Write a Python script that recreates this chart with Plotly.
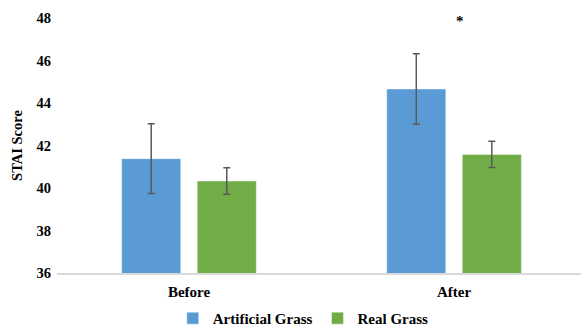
import plotly.graph_objects as go

# STAI scores by session and surface type
sessions = ["Before", "After"]
artificial_mean = [41.38, 44.66]
artificial_err = [1.64, 1.66]
real_mean = [40.33, 41.58]
real_err = [0.62, 0.62]
y_ticks = [36, 38, 40, 42, 44, 46, 48]

FONT = "Liberation Serif"
BLUE = "#5B9BD5"
GREEN = "#70AD47"
ERR = "#595959"

fig = go.Figure()
fig.add_trace(go.Bar(
    name="<b>Artificial Grass</b>", x=sessions, y=artificial_mean,
    base=0, width=0.223, offset=-0.254,
    marker=dict(color=BLUE, line=dict(color="rgba(255,255,255,0.45)", width=1)),
    error_y=dict(type="data", array=artificial_err, color=ERR, thickness=1.5, width=3.5),
))
fig.add_trace(go.Bar(
    name="<b>Real Grass</b>", x=sessions, y=real_mean,
    base=0, width=0.223, offset=0.031,
    marker=dict(color=GREEN, line=dict(color="rgba(255,255,255,0.45)", width=1)),
    error_y=dict(type="data", array=real_err, color=ERR, thickness=1.5, width=3.5),
))

# significance marker over the After group
fig.add_annotation(x="After", y=47.85, text="<b>*</b>", showarrow=False, xshift=6,
                   font=dict(family=FONT, size=15, color="#000"))

fig.update_layout(
    width=581, height=327,
    margin=dict(l=57, r=0, t=17.5, b=53.5, autoexpand=False),
    paper_bgcolor="white", plot_bgcolor="white",
    font=dict(family=FONT, size=14.5, color="#000"),
    barmode="group",
    showlegend=True,
    legend=dict(orientation="h", x=0.47, xanchor="center", y=-0.178, yanchor="middle",
                font=dict(family=FONT, size=15, color="#000", weight="bold"),
                itemwidth=30, tracegroupgap=0),
)
fig.update_xaxes(
    type="category", range=[-0.498, 1.479],
    showline=True, linecolor="#D9D9D9", linewidth=1.5,
    showgrid=False, ticks="", ticklabelstandoff=4,
    tickfont=dict(family=FONT, size=15, color="#000", weight="bold"),
)
fig.update_yaxes(
    range=[36, 48], tickvals=y_ticks, ticktext=[str(v) for v in y_ticks],
    showgrid=False, zeroline=False, showline=False, ticks="",
    ticklabelstandoff=5,
    tickfont=dict(family=FONT, size=14.5, color="#000", weight="bold"),
    title=dict(text="<b>STAI Score</b>", standoff=10,
               font=dict(family=FONT, size=14.5, color="#000")),
)
fig.update_traces(hoverinfo="skip")

fig.write_html("out.html")
